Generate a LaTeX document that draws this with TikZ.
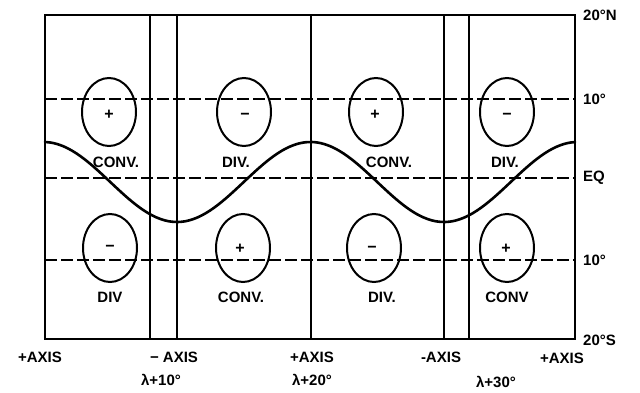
\documentclass[tikz,border=0pt]{standalone}
\usepackage{fontspec}
\setmainfont{Liberation Sans}
\usetikzlibrary{shapes.geometric}
\begin{document}
\begin{tikzpicture}[x=1pt,y=-1pt,
  frame/.style={line width=2pt},
  grid/.style={line width=1.6pt},
  dashline/.style={line width=1.5pt,dash pattern=on 12pt off 4pt},
  cell/.style={draw,ellipse,line width=2pt,minimum width=54pt,minimum height=68pt,inner sep=0pt},
  sign/.style={font=\bfseries\fontsize{16}{16}\selectfont,inner sep=0pt},
  lab/.style={font=\bfseries\fontsize{15}{15}\selectfont,inner sep=0pt},
  wave/.style={line width=2.6pt,line cap=round}]
\useasboundingbox (0,0) rectangle (640,393);
% frame and vertical axes
\draw[frame] (45,15) rectangle (575,339);
\foreach \xx in {150,177,311,444,469} \draw[grid] (\xx,15) -- (\xx,339);
% dashed latitude lines
\foreach \yy in {99,178,260} \draw[dashline] (45,\yy) -- (575,\yy);
% wave
\draw[wave,domain=45:575,samples=120,smooth] plot ({\x},{182-40*cos(1.34831*(\x-310.5))});
% ellipses north
\node[cell] (n1) at (109,112) {};
\node[cell] (n2) at (244,112) {};
\node[cell] (n3) at (376,112) {};
\node[cell] (n4) at (507,112) {};
% ellipses south
\node[cell] (s1) at (110,248) {};
\node[cell] (s2) at (243,248) {};
\node[cell] (s3) at (374,248) {};
\node[cell] (s4) at (507,248) {};
% signs
\node[sign] (pn1) at (109,115) {+};
\node[sign] (pn2) at (245,116) {−};
\node[sign] (pn3) at (375,115) {+};
\node[sign] (pn4) at (507,116) {−};
\node[sign] (ps1) at (110,248) {−};
\node[sign] (ps2) at (240,249) {+};
\node[sign] (ps3) at (372,249) {−};
\node[sign] (ps4) at (506,249) {+};
% cell labels
\node[lab] (ln1) at (116,162) {CONV.};
\node[lab] (ln2) at (236,162) {DIV.};
\node[lab] (ln3) at (389,162) {CONV.};
\node[lab] (ln4) at (505,162) {DIV.};
\node[lab] (ls1) at (110,297) {DIV};
\node[lab] (ls2) at (241,297) {CONV.};
\node[lab] (ls3) at (382,297) {DIV.};
\node[lab] (ls4) at (507,297) {CONV};
% latitude labels
\node[lab,anchor=west] (l20n) at (583,15) {20°N};
\node[lab,anchor=west] (l10n) at (583,99) {10°};
\node[lab,anchor=west] (leq) at (583,178) {EQ};
\node[lab,anchor=west] (l10s) at (583,260) {10°};
\node[lab,anchor=west] (l20s) at (583,340) {20°S};
% axis labels
\node[lab] (a1) at (40,357) {+AXIS};
\node[lab] (a2) at (174,357) {− AXIS};
\node[lab] (a3) at (312,357) {+AXIS};
\node[lab] (a4) at (441,357) {-AXIS};
\node[lab] (a5) at (562,358) {+AXIS};
\node[lab] (b1) at (161,380) {λ+10°};
\node[lab] (b2) at (312,380) {λ+20°};
\node[lab] (b3) at (496,382) {λ+30°};
\end{tikzpicture}
\end{document}
